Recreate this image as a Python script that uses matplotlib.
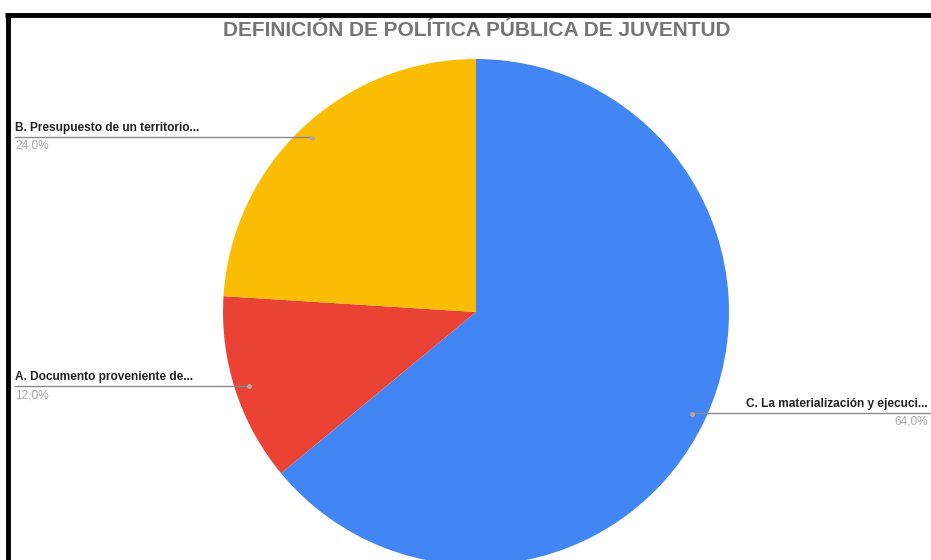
import numpy as np
import matplotlib.pyplot as plt

labels = ["A. Documento proveniente de...", "B. Presupuesto de un territorio...", "C. La materialización y ejecuci..."]
values = [12.0, 24.0, 64.0]
pct_labels = ["12,0%", "24,0%", "64,0%"]
colors = ["#EA4335", "#FBBC04", "#4285F4"]
title = "DEFINICIÓN DE POLÍTICA PÚBLICA DE JUVENTUD"

W, H = 931, 560
fig = plt.figure(figsize=(W / 100, H / 100), dpi=100)
ax = fig.add_axes([0, 0, 1, 1])

cx, cy, r = 476, H - 312, 253
# google sheets draws C first going clockwise from the top, then A, B
order = [2, 0, 1]
ax.pie([values[i] for i in order], colors=[colors[i] for i in order],
       startangle=90, counterclock=False, center=(cx, cy), radius=r,
       wedgeprops=dict(linewidth=0), frame=True)
ax.set_xlim(0, W)
ax.set_ylim(0, H)
ax.set_aspect("auto")
ax.axis("off")

fs = 8.6
lab_y = {0: 386, 1: 137, 2: 413}   # leader line rows (px from top)
start = 0.0
for i in order:
    mid = start + values[i] / 2
    start += values[i]
    ang = np.deg2rad(90 - mid * 3.6)
    px = cx + 0.945 * r * np.cos(ang)
    py = cy + 0.945 * r * np.sin(ang)
    ly = H - lab_y[i]
    ax.plot([px], [py], "o", ms=2.5, color="#b0a8a0", zorder=5)
    if px < cx:
        x0, ha = 15, "left"
        ax.plot([15, px], [ly, ly], color="#8a8a8a", lw=1, zorder=4)
    else:
        x0, ha = 928, "right"
        ax.plot([px, W], [ly, ly], color="#8a8a8a", lw=1, zorder=4)
    ax.text(x0, ly + 3, labels[i], ha=ha, va="bottom", fontsize=fs,
            fontweight="bold", color="#222222", family="Liberation Sans")
    ax.text(x0, ly - 3, pct_labels[i], ha=ha, va="top", fontsize=fs,
            color="#aaaaaa", family="Liberation Sans")

ax.text(477, H - 30, title, ha="center", va="center", fontsize=15,
        fontweight="bold", color="#757575", family="Liberation Sans")

# black frame of the screenshot (top and left)
ax.plot([5, W], [H - 14.5, H - 14.5], color="black", lw=3.5, solid_capstyle="butt")
ax.plot([7.5, 7.5], [0, H - 13], color="black", lw=3.5, solid_capstyle="butt")

fig.savefig("out.png", dpi=100)
